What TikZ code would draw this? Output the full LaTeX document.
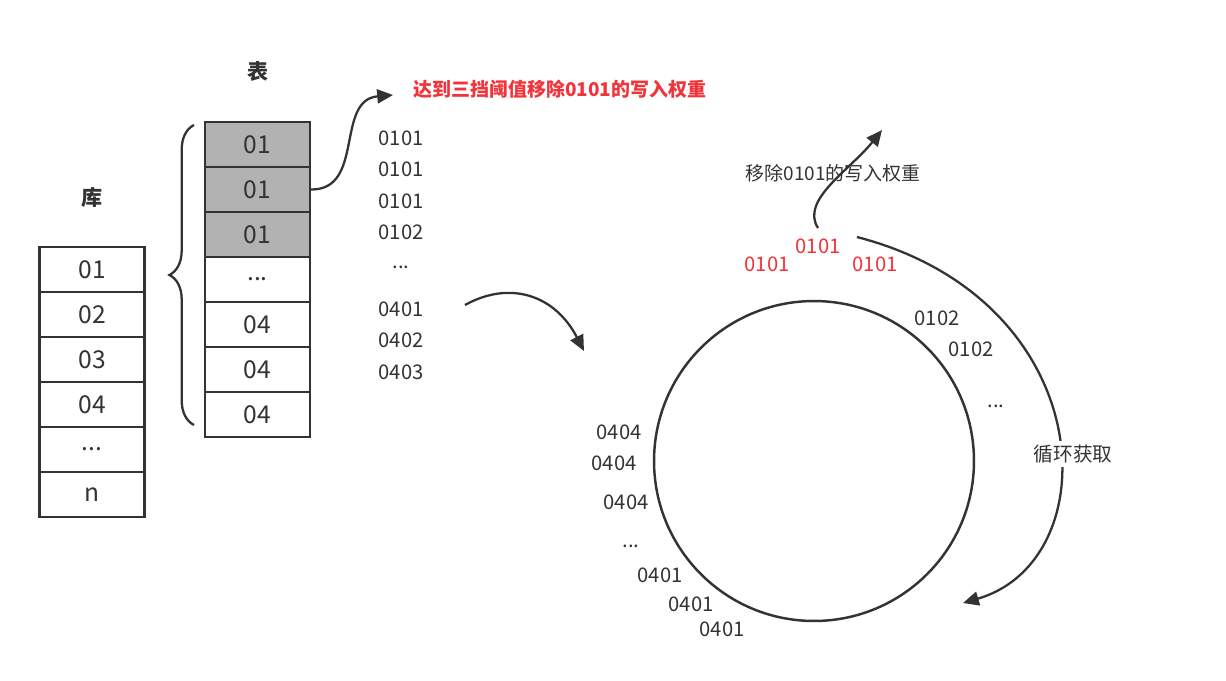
\documentclass[tikz,border=0pt]{standalone}
\usepackage{fontspec}
\setmainfont{Noto Sans CJK SC}
\usetikzlibrary{arrows.meta,decorations.pathreplacing}
\definecolor{ln}{HTML}{333333}
\definecolor{rd}{HTML}{F2333A}
\newcommand\mydots{...}
\begin{document}
\begin{tikzpicture}[x=0.02cm,y=-0.02cm,
  cell/.style={draw=ln,line width=1.2pt,minimum width=2.1cm,minimum height=0.9cm,inner sep=0,font=\fontsize{14}{14}\selectfont,text=ln},
  lbl/.style={font=\fontsize{11.5}{12}\selectfont,text=ln,inner sep=0},
  rlbl/.style={font=\fontsize{11.5}{12}\selectfont,text=rd,inner sep=0},
  arr/.style={draw=ln,line width=1.3pt,-{Triangle[length=9pt,width=8pt]}}]
\useasboundingbox (0,0) rectangle (1226,680);
\node[font=\fontsize{12}{12}\selectfont\bfseries,text=ln] (ku) at (92,197) {库};
\foreach \t [count=\i] in {01,02,03,04,\mydots,n}
  \node[cell] (L\i) at (92,{245+45*\i-20.5}) {\t};
\node[font=\fontsize{12}{12}\selectfont\bfseries,text=ln] (biao) at (258,71) {表};
\foreach \t [count=\i] in {01,01,01,\mydots,04,04,04}
  \node[cell] (R\i) at (257.5,{120+45*\i-20.5}) {\t};
\foreach \i in {1,2,3} \node[cell,fill=black!30] at (R\i) {01};
\draw[ln,line width=1.3pt,decorate,decoration={brace,amplitude=14pt,mirror}] (194,125) -- coordinate[pos=0.5] (bt) (194,425);
\coordinate (a1e) at (393,95);
\draw[arr] (R2.east) .. controls (365,190) and (335,100) .. (a1e);
\node[anchor=west,font=\fontsize{10.8}{12}\selectfont\bfseries,text=rd,inner sep=0] (title) at (413,89) {达到三挡阈值移除0101的写入权重};
\foreach \t/\y [count=\i] in {0101/138,0101/169,0101/201,0102/232,\mydots/267,0401/309,0402/340,0403/372}
  \node[lbl] (s\i) at (401,\y) {\t};
\coordinate (b1) at (465,305); \coordinate (b2) at (584,351);
\draw[arr] (b1) .. controls (510,280) and (555,295) .. (b2);
\node[circle,draw=ln,line width=1.4pt,minimum size=6.4cm,inner sep=0] (c) at (814,461) {};
\foreach \t/\x/\y [count=\i] in {0102/937/318,0102/971/349,\mydots/996/406,0404/619/432,0404/614/463,0404/626/502,\mydots/631/546,0401/660/575,0401/691/604,0401/722/629}
  \node[lbl] (r\i) at (\x,\y) {\t};
\node[rlbl] (p1) at (767,264) {0101};
\node[rlbl] (p2) at (818,246) {0101};
\node[rlbl] (p3) at (875,264) {0101};
\coordinate (c1) at (818,228); \coordinate (c2) at (882,130);
\draw[arr] (c1) .. controls (800,200) and (850,170) .. (c2);
\node[font=\fontsize{10.8}{12}\selectfont,text=ln,inner sep=0] (rm) at (833,173) {移除0101的写入权重};
\coordinate (d1) at (857,237); \coordinate (d2) at (963,603);
\draw[arr] (d1) .. controls (1100,300) and (1110,560) .. (d2);
\node[font=\fontsize{11.2}{12}\selectfont,text=ln,fill=white,inner sep=2pt] (xh) at (1073,454) {循环获取};
\end{tikzpicture}
\end{document}
